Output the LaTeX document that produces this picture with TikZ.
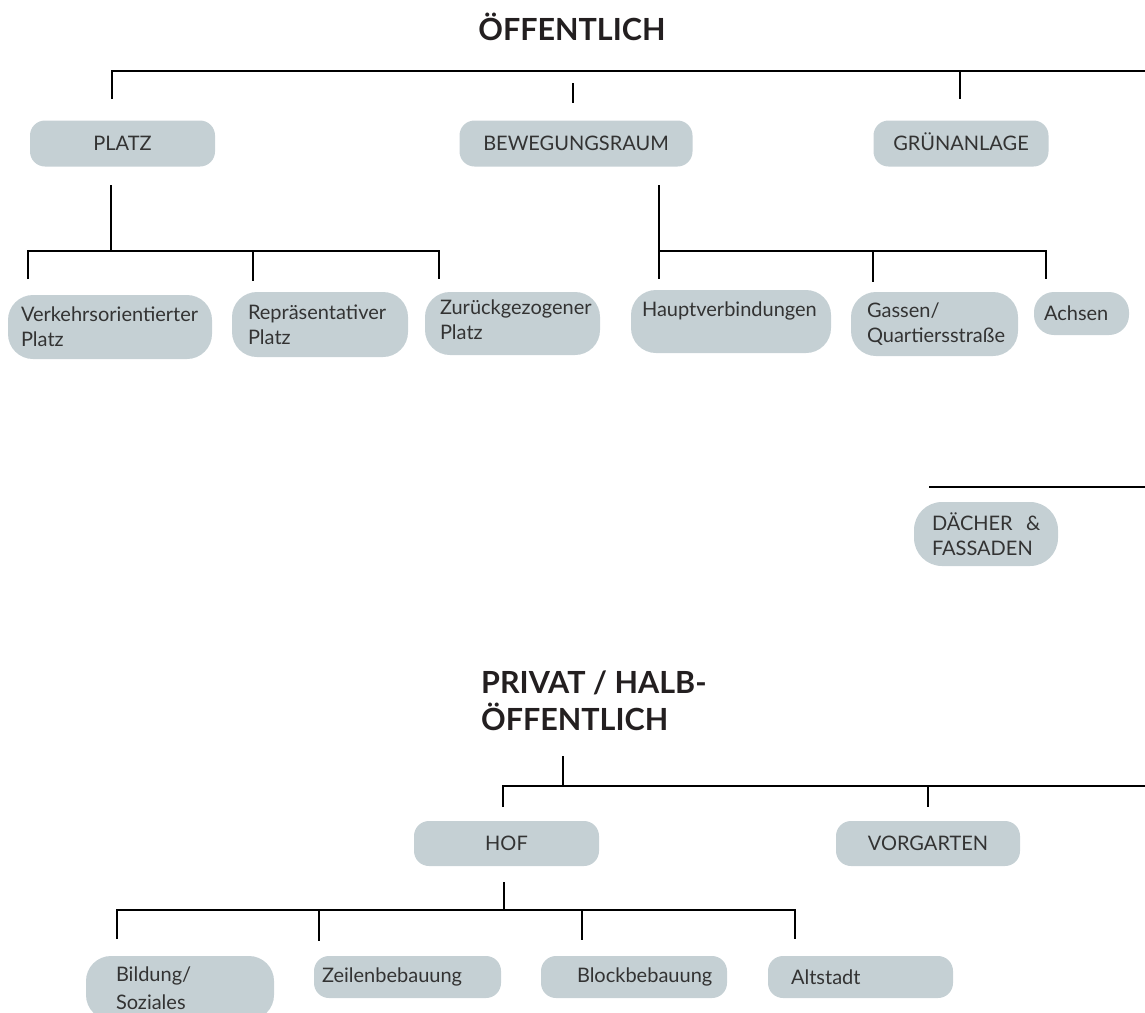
\documentclass[tikz,border=0pt]{standalone}
\usepackage{fontspec}
\setmainfont{Lato}
\usetikzlibrary{calc}
\definecolor{boxfill}{HTML}{C5D0D4}
\definecolor{boxtext}{HTML}{333333}
\definecolor{headtext}{HTML}{231F20}
\tikzset{
  box/.style={fill=boxfill, rounded corners=15pt, inner sep=0pt, text=boxtext,
    font=\fontsize{20}{25}\selectfont, align=left},
  pill/.style={box, rounded corners=25pt},
  capbox/.style={box, align=center, text height=14.4pt, text depth=0pt},
  head/.style={text=headtext, inner sep=0pt, font=\bfseries\fontsize{30.5}{37}\selectfont, align=left},
  branch/.style={line width=2.7pt, draw=black}
}
\begin{document}
\begin{tikzpicture}[x=1pt,y=-1pt]
\useasboundingbox (0,0) rectangle (1145,1012);

%% Titles
\node[head, anchor=base] (oeffentlich) at (572,40) {ÖFFENTLICH};
\node[head, anchor=north west] (privat) at (481,671) {PRIVAT / HALB-\\ÖFFENTLICH};

%% First level
\node[capbox, minimum width=185pt, minimum height=46pt] (platz) at (122.5,143.5) {PLATZ};
\node[capbox, minimum width=233pt, minimum height=46pt] (bewegung) at (576,143.5) {BEWEGUNGSRAUM};
\node[capbox, minimum width=175pt, minimum height=46pt] (gruen) at (961,143.5) {GRÜNANLAGE};

%% Platz types
\node[pill, minimum width=204pt, minimum height=64pt, text width=178pt] (verkehr) at (110,327) {Verkehrsorientierter\\Platz};
\node[pill, minimum width=176pt, minimum height=65pt, text width=144pt] (repraes) at (320,324.5) {Repräsentativer\\Platz};
\node[pill, minimum width=175pt, minimum height=63pt, text width=145pt, text depth=33pt] (zurueck) at (512.5,323.5) {Zurückgezogener\\Platz};

%% Bewegungsraum types
\node[pill, minimum width=200pt, minimum height=63pt, text width=178pt, text depth=24pt] (haupt) at (731,321.5) {Hauptverbindungen};
\node[pill, minimum width=167pt, minimum height=64pt, text width=135pt] (gassen) at (934.5,324) {Gassen/\\Quartiersstraße};
\node[box, rounded corners=20pt, minimum width=95pt, minimum height=43pt, text width=75pt] (achsen) at (1081.5,313.5) {Achsen};

%% Daecher
\node[pill, rounded corners=28pt, minimum width=144pt, minimum height=64pt, text width=108pt] (daecher) at (986,534) {DÄCHER~~\&\\FASSADEN};

%% Private level
\node[capbox, minimum width=185pt, minimum height=45pt] (hof) at (506.5,843.5) {HOF};
\node[capbox, minimum width=184pt, minimum height=45pt] (vorgarten) at (928,843.5) {VORGARTEN};

%% Hof types
\node[pill, minimum width=188pt, minimum height=64pt, text width=128pt] (bildung) at (180,988) {Bildung/\\[3pt]Soziales};
\node[box, minimum width=187pt, minimum height=42pt, text width=171pt] (zeilen) at (407.5,977) {Zeilenbebauung};
\node[box, minimum width=186pt, minimum height=42pt, text width=114pt] (block) at (634,977) {Blockbebauung};
\node[box, minimum width=185pt, minimum height=42pt, text width=139pt] (altstadt) at (860.5,977) {Altstadt};

%% Oeffentlich tree
\coordinate (oeL) at (112,71);
\coordinate (oeR) at (1145,71);
\coordinate (oeG) at (960,71);
\draw[branch] ($(oeL)+(0,28)$) -- (oeL) -- (oeR);
\draw[branch] (oeG) -- ++(0,28);
\draw[branch] (573,83) -- (573,103); %%Bewegungsraum

%% Platz tree
\coordinate (plTop) at (111,185);
\coordinate (plL) at (28,251);
\coordinate (plM) at (253,251);
\coordinate (plR) at (439,251);
\draw[branch] (plTop) -- (plTop |- plL);
\draw[branch] ($(plL)+(0,28)$) -- (plL) -- (plR) -- ++(0,28);
\draw[branch] (plM) -- ++(0,30);

%% Bewegungsraum tree
\coordinate (bwTop) at (659,185);
\coordinate (bwL) at (659,251);
\coordinate (bwM) at (873,251);
\coordinate (bwR) at (1046,251);
\draw[branch] (bwTop) -- ($(bwL)+(0,28)$);
\draw[branch] (bwL) -- (bwR) -- ++(0,28);
\draw[branch] (bwM) -- ++(0,31);

%% Daecher line
\draw[branch] (929,487) -- (1145,487);

%% Privat tree
\coordinate (prTop) at (563,756);
\coordinate (prL) at (503,786);
\coordinate (prR) at (1145,786);
\coordinate (prV) at (928,786);
\draw[branch] (prTop) -- (prTop |- prL);
\draw[branch] ($(prL)+(0,21)$) -- (prL) -- (prR);
\draw[branch] (prV) -- ++(0,21);

%% Hof tree
\coordinate (hfTop) at (504,882);
\coordinate (hfL) at (117,910);
\coordinate (hfA) at (319,910);
\coordinate (hfB) at (582,910);
\coordinate (hfR) at (795,910);
\draw[branch] (hfTop) -- (hfTop |- hfL);
\draw[branch] ($(hfL)+(0,29)$) -- (hfL) -- (hfR) -- ++(0,29);
\draw[branch] (hfA) -- ++(0,31);
\draw[branch] (hfB) -- ++(0,30);

\end{tikzpicture}
\end{document}
